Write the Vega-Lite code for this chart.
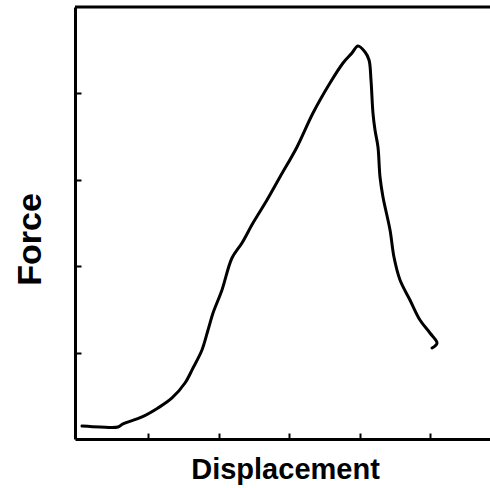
{
  "$schema": "https://vega.github.io/schema/vega-lite/v6.json",
  "autosize": {"type": "none"},
  "padding": {"left": 75, "top": 7, "right": 0, "bottom": 49},
  "width": 415,
  "height": 432,
  "background": "white",
  "config": {"view": {"stroke": null}, "font": "Liberation Sans"},
  "datasets": {
    "curve": [
      {"i": 0, "d": 0.059, "f": 0.150},
      {"i": 1, "d": 0.315, "f": 0.139},
      {"i": 2, "d": 0.570, "f": 0.139},
      {"i": 3, "d": 0.641, "f": 0.174},
      {"i": 4, "d": 0.911, "f": 0.255},
      {"i": 5, "d": 1.138, "f": 0.359},
      {"i": 6, "d": 1.337, "f": 0.475},
      {"i": 7, "d": 1.521, "f": 0.648},
      {"i": 8, "d": 1.635, "f": 0.822},
      {"i": 9, "d": 1.762, "f": 1.030},
      {"i": 10, "d": 1.848, "f": 1.262},
      {"i": 11, "d": 1.919, "f": 1.458},
      {"i": 12, "d": 2.046, "f": 1.725},
      {"i": 13, "d": 2.188, "f": 2.095},
      {"i": 14, "d": 2.330, "f": 2.269},
      {"i": 15, "d": 2.486, "f": 2.500},
      {"i": 16, "d": 2.685, "f": 2.766},
      {"i": 17, "d": 2.869, "f": 3.032},
      {"i": 18, "d": 3.111, "f": 3.380},
      {"i": 19, "d": 3.338, "f": 3.773},
      {"i": 20, "d": 3.579, "f": 4.120},
      {"i": 21, "d": 3.764, "f": 4.352},
      {"i": 22, "d": 3.891, "f": 4.468},
      {"i": 23, "d": 3.976, "f": 4.549},
      {"i": 24, "d": 4.076, "f": 4.479},
      {"i": 25, "d": 4.133, "f": 4.387},
      {"i": 26, "d": 4.161, "f": 4.155},
      {"i": 27, "d": 4.189, "f": 3.773},
      {"i": 28, "d": 4.218, "f": 3.576},
      {"i": 29, "d": 4.260, "f": 3.380},
      {"i": 30, "d": 4.289, "f": 3.032},
      {"i": 31, "d": 4.331, "f": 2.801},
      {"i": 32, "d": 4.431, "f": 2.419},
      {"i": 33, "d": 4.487, "f": 2.106},
      {"i": 34, "d": 4.573, "f": 1.840},
      {"i": 35, "d": 4.714, "f": 1.609},
      {"i": 36, "d": 4.856, "f": 1.377},
      {"i": 37, "d": 4.998, "f": 1.227},
      {"i": 38, "d": 5.098, "f": 1.111},
      {"i": 39, "d": 5.027, "f": 1.053}
    ]
  },
  "layer": [
    {
      "data": {"name": "curve"},
      "mark": {"type": "line", "color": "black", "strokeWidth": 3, "strokeJoin": "round", "strokeCap": "round", "interpolate": "catmull-rom"},
      "encoding": {
        "x": {
          "field": "d", "type": "quantitative",
          "scale": {"domain": [-0.04, 5.85], "nice": false, "zero": false},
          "axis": {
            "title": "Displacement",
            "values": [1, 2, 3, 4, 5],
            "labels": false,
            "grid": false,
            "domainColor": "black", "domainWidth": 3,
            "tickColor": "black", "tickWidth": 2, "tickSize": -6,
            "titleFont": "Liberation Sans", "titleFontSize": 29, "titleFontWeight": "bold", "titleColor": "black",
            "titleX": 210, "titleY": 39, "titleAlign": "center", "titleBaseline": "alphabetic"
          }
        },
        "y": {
          "field": "f", "type": "quantitative",
          "scale": {"domain": [0, 5], "nice": false},
          "axis": {
            "title": "Force",
            "values": [1, 2, 3, 4],
            "labels": false,
            "grid": false,
            "domainColor": "black", "domainWidth": 3,
            "tickColor": "black", "tickWidth": 2, "tickSize": -6,
            "titleFont": "Liberation Sans", "titleFontSize": 34, "titleFontWeight": "bold", "titleColor": "black",
            "titleAngle": 270, "titleX": -35, "titleY": 232, "titleAlign": "center", "titleBaseline": "alphabetic"
          }
        },
        "order": {"field": "i", "type": "quantitative"}
      }
    },
    {
      "data": {"values": [{"top": 5}]},
      "mark": {"type": "rule", "color": "black", "strokeWidth": 3},
      "encoding": {"y": {"field": "top", "type": "quantitative"}}
    }
  ]
}
